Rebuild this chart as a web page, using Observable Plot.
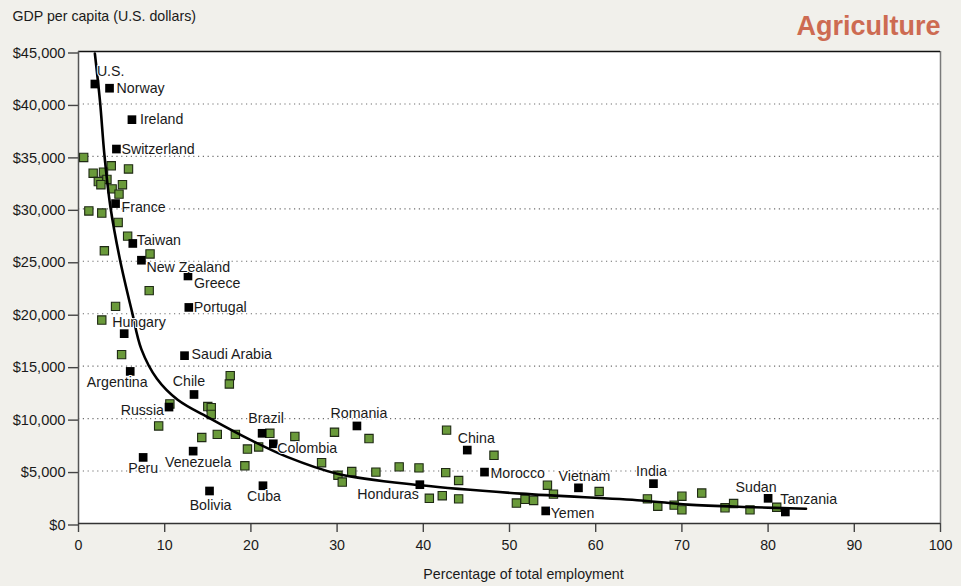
<!DOCTYPE html>
<html><head><meta charset="utf-8">
<script src="https://cdn.jsdelivr.net/npm/d3@7"></script>
<script src="https://cdn.jsdelivr.net/npm/@observablehq/plot@0.6"></script>
<style>
html,body{margin:0;padding:0;background:#f1f0eb;}
#chart svg{display:block;}
</style></head><body><div id="chart"></div>
<script>
// ---- Data ----
const labeledNames = ["U.S.","Norway","Ireland","Switzerland","France","Taiwan","New Zealand","Greece","Portugal","Hungary","Saudi Arabia","Argentina","Chile","Russia","Peru","Venezuela","Bolivia","Brazil","Colombia","Cuba","Romania","China","Morocco","Honduras","Yemen","Vietnam","India","Sudan","Tanzania"];
const labeledX = [1.9,3.6,6.2,4.4,4.3,6.3,7.3,12.7,12.8,5.3,12.3,6.0,13.4,10.5,7.5,13.3,15.2,21.3,22.6,21.4,32.3,45.1,47.1,39.6,54.2,58.0,66.7,80.0,82.0];
const labeledY = [41900,41500,38500,35700,30500,26700,25100,23600,20600,18100,16000,14500,12300,11100,6300,6900,3100,8600,7600,3600,9300,7000,4900,3700,1200,3400,3800,2400,1100];

const otherX = [0.6,3.8,5.8,1.7,2.9,2.3,3.3,2.6,3.9,5.1,4.7,1.2,2.7,4.6,5.7,3.0,8.3,8.2,4.3,2.7,5.0,17.6,17.5,10.6,15.0,15.4,15.4,9.3,14.3,16.1,18.2,22.2,25.1,19.6,20.9,19.3,28.2,29.7,30.1,30.6,31.7,33.7,34.5,37.2,39.5,42.7,42.6,44.1,48.2,40.7,42.2,44.1,50.8,51.8,52.8,54.4,55.1,60.4,66.0,67.2,69.1,70.0,70.0,72.3,75.0,76.0,77.9,81.0];
const otherY = [34900,34100,33800,33400,33500,32600,32800,32300,31900,32300,31400,29800,29600,28700,27400,26000,25700,22200,20700,19400,16100,14100,13300,11400,11150,11050,10400,9300,8200,8500,8500,8600,8300,7100,7300,5500,5800,8700,4600,3950,4950,8100,4900,5400,5300,8900,4850,4100,6500,2400,2650,2350,1950,2300,2200,3650,2800,3050,2350,1650,1750,2600,1300,2900,1500,1900,1300,1550];

const trendX = [1.9,2.5,3.0,3.7,4.8,6.2,7.3,9.1,11.5,15.3,20.0,24.2,30.0,39.7,51.3,65.3,70.7,78.4,84.4];
const trendY = [44800,40200,35200,30200,25200,20200,16600,13800,11800,10000,7950,6350,4750,3650,2850,2200,1800,1550,1400];

const xTicks = [0,10,20,30,40,50,60,70,80,90,100];
const yTicks = [0,5000,10000,15000,20000,25000,30000,35000,40000,45000];
const gridTicks = [5000,10000,15000,20000,25000,30000,35000,40000];

const titleText = "GDP per capita (U.S. dollars)";
const sectorText = "Agriculture";
const xLabelText = "Percentage of total employment";

// label placement: [textAnchor, dx, dy]
const labelPlacement = {
  "U.S.":["start",2,-13], "Norway":["start",7,0], "Ireland":["start",8,0], "Switzerland":["start",5,0],
  "France":["start",6,4], "Taiwan":["start",4,-3], "New Zealand":["start",5,7], "Greece":["start",6,7],
  "Portugal":["start",5,0], "Hungary":["start",-12,-11], "Saudi Arabia":["start",7,-1], "Argentina":["middle",-13,11],
  "Chile":["middle",-5,-13], "Russia":["end",-5,3], "Peru":["middle",0,11], "Venezuela":["middle",5,11],
  "Bolivia":["middle",1,14], "Brazil":["middle",4,-15], "Colombia":["start",4,5], "Cuba":["middle",1,11],
  "Romania":["middle",2,-13], "China":["middle",9,-12], "Morocco":["start",6,1], "Honduras":["end",-1,10],
  "Yemen":["start",5,3], "Vietnam":["middle",6,-11], "India":["middle",-2,-12], "Sudan":["middle",-12,-11],
  "Tanzania":["start",-5,-13]
};

// ---- Build tables ----
const labeled = labeledNames.map((n,i)=>({name:n, x:labeledX[i], y:labeledY[i]}));
const others = otherX.map((x,i)=>({x, y:otherY[i]}));
const trend = trendX.map((x,i)=>({x, y:trendY[i]}));

const FONT = '"Liberation Sans",Arial,Helvetica,sans-serif';
const fmt = d3.format(",");

const labelMarks = labeled.map(d => {
  const [a,dx,dy] = labelPlacement[d.name];
  return Plot.text([d], {x:"x", y:"y", text:"name", textAnchor:a, dx, dy, fontSize:14.2, fill:"#1a1a1a",
    stroke:"white", strokeWidth:2, paintOrder:"stroke"});
});

const chart = Plot.plot({
  width: 961, height: 586,
  marginLeft: 78, marginRight: 21, marginTop: 51, marginBottom: 63,
  style: {background:"transparent", fontFamily: FONT, fontSize:"14px", color:"#1a1a1a"},
  x: {domain:[0,100]},
  y: {domain:[0,45000]},
  marks: [
    Plot.frame({fill:"white", stroke:"none"}),
    Plot.ruleY(gridTicks, {stroke:"#6e6e6e", strokeDasharray:"1.2,3.6", strokeWidth:1.1}),
    Plot.ruleX([100], {stroke:"#7a7a7a", strokeWidth:1.5}),
    Plot.ruleY([45000], {stroke:"#111", strokeWidth:1.5}),
    Plot.axisX({ticks:xTicks, tickSize:9, tickPadding:7, label:null, stroke:"#444", strokeWidth:1.4, fontSize:14.2}),
    Plot.axisY({ticks:yTicks, tickSize:10, tickPadding:3, label:null, tickFormat:d=>"$"+fmt(d), stroke:"#444", strokeWidth:1.4, fontSize:14.6, dy:1.5}),
    Plot.ruleX([0], {stroke:"#555", strokeWidth:1.5}),
    Plot.ruleY([0], {stroke:"#333", strokeWidth:1.5}),
    Plot.dot(others, {x:"x", y:"y", symbol:"square", r:4.7, fill:"#6a9a3a", stroke:"#1f2a14", strokeWidth:1.1}),
    Plot.line(trend, {x:"x", y:"y", curve:"catmull-rom", stroke:"#000", strokeWidth:2.6}),
    Plot.dot(labeled, {x:"x", y:"y", symbol:"square", r:4.9, fill:"#000", stroke:"none"}),
    ...labelMarks,
    Plot.text([titleText], {frameAnchor:"top-left", dx:-66, dy:-35, textAnchor:"start", lineAnchor:"middle", fontSize:14.2, fill:"#1a1a1a"}),
    Plot.text([sectorText], {frameAnchor:"top-right", dx:0, dy:-25, textAnchor:"end", lineAnchor:"middle", fontSize:27, fontWeight:"bold", fill:"#cd6b52"}),
    Plot.text([xLabelText], {frameAnchor:"bottom", dx:14, dy:51, lineAnchor:"middle", fontSize:14.2, fill:"#1a1a1a"})
  ]
});
document.getElementById("chart").appendChild(chart);
</script>
</body></html>
